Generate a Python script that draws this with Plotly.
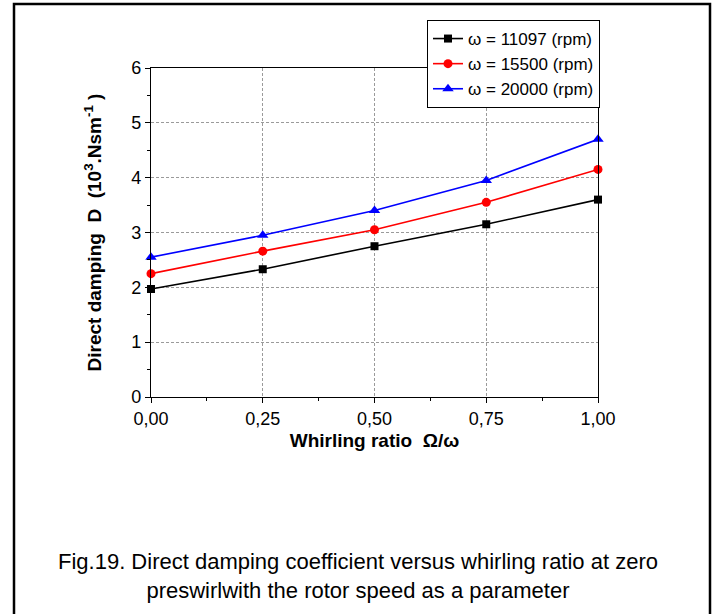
import plotly.graph_objects as go

# Whirling ratio and direct damping D (10^3 N.s/m) for three rotor speeds
whirl_ratio = [0.0, 0.25, 0.5, 0.75, 1.0]
d_11097 = [1.97, 2.33, 2.75, 3.15, 3.60]
d_15500 = [2.25, 2.66, 3.05, 3.55, 4.15]
d_20000 = [2.55, 2.95, 3.40, 3.95, 4.70]

series_names = ["ω = 11097 (rpm)", "ω = 15500 (rpm)", "ω = 20000 (rpm)"]
x_tick_vals = [0.0, 0.25, 0.5, 0.75, 1.0]
x_tick_text = ["0,00", "0,25", "0,50", "0,75", "1,00"]

FONT = "Liberation Sans, Arial, sans-serif"

fig = go.Figure()
styles = [("black", "square", 8), ("red", "circle", 9), ("blue", "triangle-up", 10)]
for name, vals, (col, sym, msize) in zip(series_names, [d_11097, d_15500, d_20000], styles):
    fig.add_trace(go.Scatter(
        x=whirl_ratio, y=vals, name=name, mode="lines+markers",
        line=dict(color=col, width=1.6),
        marker=dict(symbol=sym, size=msize, color=col),
        cliponaxis=False,
    ))

# plot-area limits in pixels, used for the outer frame in paper coordinates
L, R, T, B = 151, 598, 68, 397
W, H = 714, 614
pw, ph = R - L, B - T

def px(xp):
    return (xp - L) / pw

def py(yp):
    return (B - yp) / ph

axis_common = dict(
    showline=True, linecolor="black", linewidth=1.3, mirror=True,
    ticks="outside", ticklen=5, tickcolor="black",
    showgrid=True, gridcolor="#9a9a9a", griddash="3px,2px", gridwidth=1,
    zeroline=False,
    tickfont=dict(family=FONT, size=18, color="black"),
)

fig.update_layout(
    width=W, height=H,
    margin=dict(l=L, r=W - R, t=T, b=H - B),
    paper_bgcolor="white", plot_bgcolor="white",
    font=dict(family=FONT, color="black"),
    xaxis=dict(
        range=[0, 1], tickvals=x_tick_vals, ticktext=x_tick_text,
        title=dict(text="<b>Whirling ratio  Ω/ω</b>", font=dict(family=FONT, size=19), standoff=5),
        minor=dict(ticks="outside", ticklen=3, tickcolor="black", showgrid=False, dtick=0.125),
        **axis_common,
    ),
    yaxis=dict(
        range=[0, 6], dtick=1,
        title=dict(text="<b>Direct damping  D  (10<sup>3</sup>.Nsm<sup>-1</sup> )</b>",
                   font=dict(family=FONT, size=19), standoff=24),
        minor=dict(ticks="outside", ticklen=3, tickcolor="black", showgrid=False, dtick=0.5),
        **axis_common,
    ),
    legend=dict(
        x=px(600), y=py(20), xanchor="right", yanchor="top",
        bgcolor="white", bordercolor="black", borderwidth=1,
        font=dict(family=FONT, size=17, color="black"),
        tracegroupgap=0,
    ),
    showlegend=True,
)

# outer figure frame
fig.add_shape(type="rect", xref="paper", yref="paper",
              x0=px(14), x1=px(710), y0=py(640), y1=py(4),
              line=dict(color="black", width=2.5), fillcolor="rgba(0,0,0,0)",
              layer="below")

fig.add_annotation(
    xref="paper", yref="paper", x=px(358), y=py(547), xanchor="center", yanchor="top",
    text="Fig.19. Direct damping coefficient versus whirling ratio at zero<br>"
         "preswirlwith the rotor speed as a parameter",
    showarrow=False, align="center",
    font=dict(family=FONT, size=22, color="black"),
)

fig.write_html("out.html")
